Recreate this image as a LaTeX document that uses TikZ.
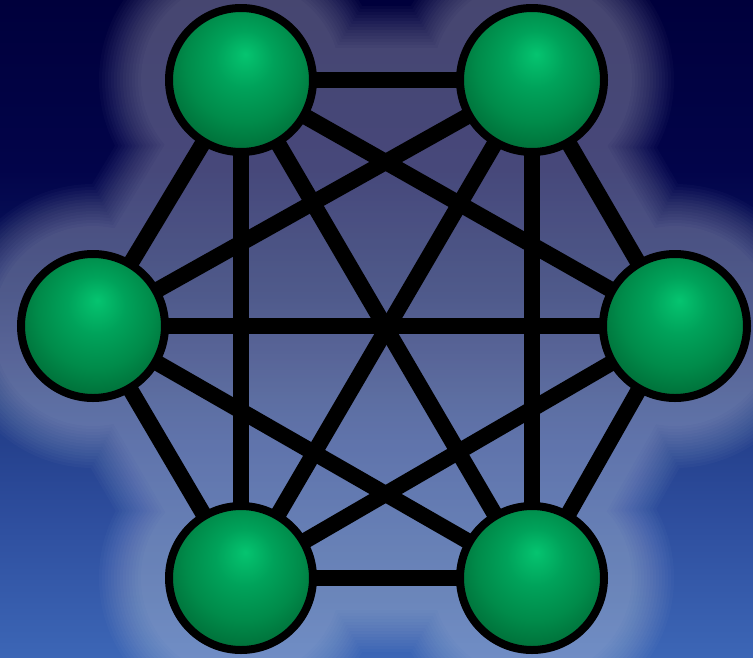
\documentclass[tikz,border=0pt]{standalone}
\usetikzlibrary{backgrounds}
\definecolor{g1}{HTML}{05C470}
\definecolor{g2}{HTML}{00A25A}
\definecolor{g3}{HTML}{008B4A}
\definecolor{g4}{HTML}{006E38}
\definecolor{g5}{HTML}{00592B}
\definecolor{bgA}{HTML}{00003C}
\definecolor{bgB}{HTML}{02044A}
\definecolor{bgC}{HTML}{0C1A62}
\definecolor{bgD}{HTML}{203A84}
\definecolor{bgE}{HTML}{2E4E9E}
\definecolor{bgF}{HTML}{3C66B6}
\pgfdeclareradialshading{greenball}{\pgfpoint{1.5bp}{9bp}}{color(0bp)=(g1); color(10bp)=(g2); color(20bp)=(g3); color(29bp)=(g4); color(35bp)=(g5); color(50bp)=(g5)}
\pgfdeclarelayer{glow}
\pgfdeclarelayer{edges}
\pgfsetlayers{glow,edges,main}
\tikzset{
  ballnode/.style={circle, draw=black, line width=8pt, minimum size=144pt, inner sep=0pt, outer sep=0pt, shading=greenball},
  link/.style={line width=16pt, black},
}
\begin{document}
\begin{tikzpicture}[x=1pt,y=-1pt]
\useasboundingbox (0,0) rectangle (753,657);
\node[ballnode] (tl) at (241,80) {};
\node[ballnode] (tr) at (532,80) {};
\node[ballnode] (l) at (93,326) {};
\node[ballnode] (r) at (675,326) {};
\node[ballnode] (bl) at (241,578) {};
\node[ballnode] (br) at (532,578) {};
\begin{pgfonlayer}{edges}
\foreach \u/\v in {tl/tr, tl/l, tl/r, tl/bl, tl/br, tr/l, tr/r, tr/bl, tr/br, l/r, l/bl, l/br, r/bl, r/br, bl/br}
  \draw[link] (\u.center) -- (\v.center);
\end{pgfonlayer}
\begin{pgfonlayer}{glow}
\shade[top color=bgA, bottom color=bgB] (0,0) rectangle (753,170);
\shade[top color=bgB, bottom color=bgC] (0,170) rectangle (753,290);
\shade[top color=bgC, bottom color=bgD] (0,290) rectangle (753,400);
\shade[top color=bgD, bottom color=bgE] (0,400) rectangle (753,520);
\shade[top color=bgE, bottom color=bgF] (0,520) rectangle (753,657);
\foreach \d in {24,27,...,66} {
  \begin{scope}[transparency group, opacity=0.024]
    \foreach \n in {tl,tr,l,r,bl,br}
      \fill[white] (\n.center) circle[radius={(76+\d)*1pt}];
    \draw[white, line width={(16+2*\d)*1pt}, line cap=round, line join=round]
      (tl.center) -- (tr.center) -- (r.center) -- (br.center) -- (bl.center) -- (l.center) -- cycle;
    \fill[white] (tl.center) -- (tr.center) -- (r.center) -- (br.center) -- (bl.center) -- (l.center) -- cycle;
  \end{scope}
}
\end{pgfonlayer}
\end{tikzpicture}
\end{document}
